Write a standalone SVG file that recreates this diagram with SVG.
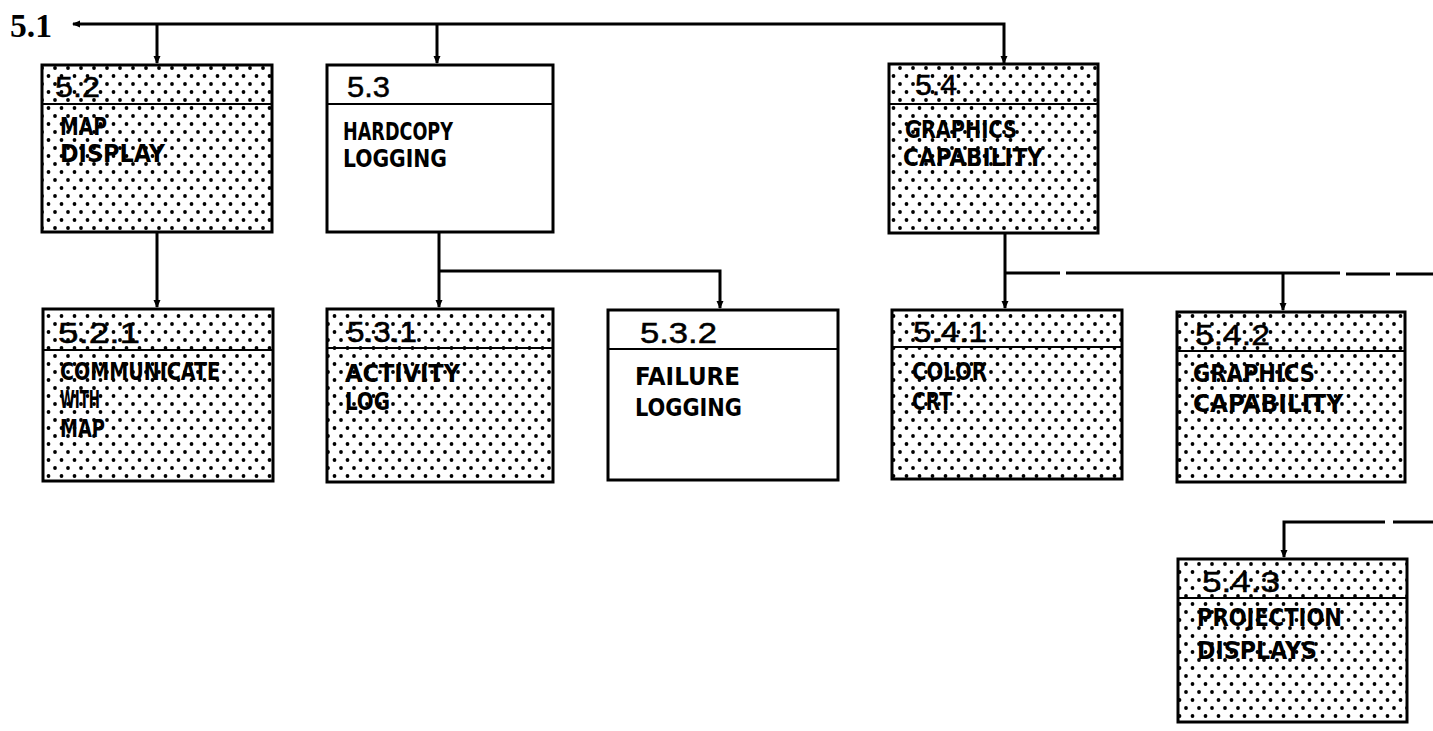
<svg xmlns="http://www.w3.org/2000/svg" width="1433" height="731" viewBox="0 0 1433 731">
<defs>
<style>
.box{stroke:#000;stroke-width:3}
.sh{fill:url(#dots)}
.wh{fill:#fff}
.div{stroke:#000;stroke-width:2}
.num{font-family:"Liberation Sans","DejaVu Sans",sans-serif;font-size:30px;fill:#000;stroke:#000;stroke-width:0.5}
.lbl{font-family:"DejaVu Sans Condensed","DejaVu Sans",sans-serif;font-weight:bold;font-size:25px;fill:#000}
.top{font-family:"Liberation Serif","DejaVu Serif",serif;font-weight:bold;font-size:34px;fill:#000}
.con{fill:none;stroke:#000;stroke-width:3}
</style>
<pattern id="dots" width="13" height="16" patternUnits="userSpaceOnUse">
<rect width="13" height="16" fill="#fff"/>
<circle cx="3" cy="4" r="1.9" fill="#000"/>
<circle cx="9.5" cy="12" r="1.9" fill="#000"/>
</pattern>
<marker id="arr" viewBox="0 0 8 8" refX="7" refY="4" markerWidth="8" markerHeight="8" markerUnits="userSpaceOnUse" orient="auto">
<path d="M0,0.5 L8,4 L0,7.5 z" fill="#000"/>
</marker>
<marker id="st" viewBox="0 0 8 8" refX="1" refY="4" markerWidth="8" markerHeight="8" markerUnits="userSpaceOnUse" orient="auto">
<path d="M0,4 L8,0.5 L8,7.5 z" fill="#000"/>
</marker>
</defs>
<rect width="1433" height="731" fill="#fff"/>

<g id="connectors">
<path class="con" d="M73,24 H1004 V63" marker-start="url(#st)" marker-end="url(#arr)"/>
<path class="con" d="M157,24 V63" marker-end="url(#arr)"/>
<path class="con" d="M437,24 V63" marker-end="url(#arr)"/>
<path class="con" d="M157,232 V307" marker-end="url(#arr)"/>
<path class="con" d="M439,232 V307" marker-end="url(#arr)"/>
<path class="con" d="M439,271 H720 V308" marker-end="url(#arr)"/>
<path class="con" d="M1005,233 V308" marker-end="url(#arr)"/>
<path class="con" d="M1005,273 H1060"/>
<path class="con" d="M1066,273 H1340"/>
<path class="con" d="M1346,274 H1390"/>
<path class="con" d="M1396,274 H1433"/>
<path class="con" d="M1283,274 V310" marker-end="url(#arr)"/>
<path class="con" d="M1385,522 H1284 V557" marker-end="url(#arr)"/>
<path class="con" d="M1393,522 H1433"/>
</g>

<g id="n5_1"><text class="top" x="10" y="37" textLength="42" lengthAdjust="spacingAndGlyphs">5.1</text></g>

<g id="n5_2">
<rect class="box sh" x="42" y="65" width="230" height="167"/>
<line class="div" x1="42" y1="104" x2="272" y2="104"/>
<text class="num" x="55" y="97" textLength="45" lengthAdjust="spacingAndGlyphs">5.2</text>
<text class="lbl" x="60" y="135" textLength="47" lengthAdjust="spacingAndGlyphs">MAP</text>
<text class="lbl" x="60" y="162" textLength="105" lengthAdjust="spacingAndGlyphs">DISPLAY</text>
</g>

<g id="n5_3">
<rect class="box wh" x="327" y="65" width="226" height="167"/>
<line class="div" x1="327" y1="104" x2="553" y2="104"/>
<text class="num" x="347" y="97" textLength="43" lengthAdjust="spacingAndGlyphs">5.3</text>
<text class="lbl" x="343" y="140" textLength="110" lengthAdjust="spacingAndGlyphs">HARDCOPY</text>
<text class="lbl" x="343" y="167" textLength="104" lengthAdjust="spacingAndGlyphs">LOGGING</text>
</g>

<g id="n5_4">
<rect class="box sh" x="889" y="64" width="209" height="169"/>
<line class="div" x1="889" y1="104" x2="1098" y2="104"/>
<text class="num" x="915" y="95" textLength="42" lengthAdjust="spacingAndGlyphs">5.4</text>
<text class="lbl" x="905" y="138" textLength="112" lengthAdjust="spacingAndGlyphs">GRAPHICS</text>
<text class="lbl" x="903" y="166" textLength="140" lengthAdjust="spacingAndGlyphs">CAPABILITY</text>
</g>

<g id="n5_2_1">
<rect class="box sh" x="43" y="309" width="230" height="172"/>
<line class="div" x1="43" y1="350" x2="273" y2="350"/>
<text class="num" x="58" y="343" textLength="82" lengthAdjust="spacingAndGlyphs">5.2.1</text>
<text class="lbl" x="60" y="380" textLength="160" lengthAdjust="spacingAndGlyphs">COMMUNICATE</text>
<text class="lbl" x="60" y="408" textLength="40" lengthAdjust="spacingAndGlyphs">WITH</text>
<text class="lbl" x="60" y="437" textLength="45" lengthAdjust="spacingAndGlyphs">MAP</text>
</g>

<g id="n5_3_1">
<rect class="box sh" x="327" y="309" width="226" height="173"/>
<line class="div" x1="327" y1="348" x2="553" y2="348"/>
<text class="num" x="347" y="342" textLength="70" lengthAdjust="spacingAndGlyphs">5.3.1</text>
<text class="lbl" x="345" y="382" textLength="115" lengthAdjust="spacingAndGlyphs">ACTIVITY</text>
<text class="lbl" x="345" y="410" textLength="45" lengthAdjust="spacingAndGlyphs">LOG</text>
</g>

<g id="n5_3_2">
<rect class="box wh" x="608" y="310" width="230" height="170"/>
<line class="div" x1="608" y1="349" x2="838" y2="349"/>
<text class="num" x="640" y="343" textLength="77" lengthAdjust="spacingAndGlyphs">5.3.2</text>
<text class="lbl" x="635" y="385" textLength="105" lengthAdjust="spacingAndGlyphs">FAILURE</text>
<text class="lbl" x="635" y="416" textLength="107" lengthAdjust="spacingAndGlyphs">LOGGING</text>
</g>

<g id="n5_4_1">
<rect class="box sh" x="892" y="310" width="230" height="169"/>
<line class="div" x1="892" y1="347" x2="1122" y2="347"/>
<text class="num" x="913" y="342" textLength="74" lengthAdjust="spacingAndGlyphs">5.4.1</text>
<text class="lbl" x="912" y="380" textLength="75" lengthAdjust="spacingAndGlyphs">COLOR</text>
<text class="lbl" x="912" y="410" textLength="40" lengthAdjust="spacingAndGlyphs">CRT</text>
</g>

<g id="n5_4_2">
<rect class="box sh" x="1177" y="312" width="228" height="170"/>
<line class="div" x1="1177" y1="351" x2="1405" y2="351"/>
<text class="num" x="1195" y="345" textLength="75" lengthAdjust="spacingAndGlyphs">5.4.2</text>
<text class="lbl" x="1193" y="382" textLength="122" lengthAdjust="spacingAndGlyphs">GRAPHICS</text>
<text class="lbl" x="1193" y="412" textLength="150" lengthAdjust="spacingAndGlyphs">CAPABILITY</text>
</g>

<g id="n5_4_3">
<rect class="box sh" x="1178" y="559" width="229" height="163"/>
<line class="div" x1="1178" y1="598" x2="1407" y2="598"/>
<text class="num" x="1202" y="592" textLength="78" lengthAdjust="spacingAndGlyphs">5.4.3</text>
<text class="lbl" x="1197" y="626" textLength="145" lengthAdjust="spacingAndGlyphs">PROJECTION</text>
<text class="lbl" x="1197" y="659" textLength="120" lengthAdjust="spacingAndGlyphs">DISPLAYS</text>
</g>
</svg>
